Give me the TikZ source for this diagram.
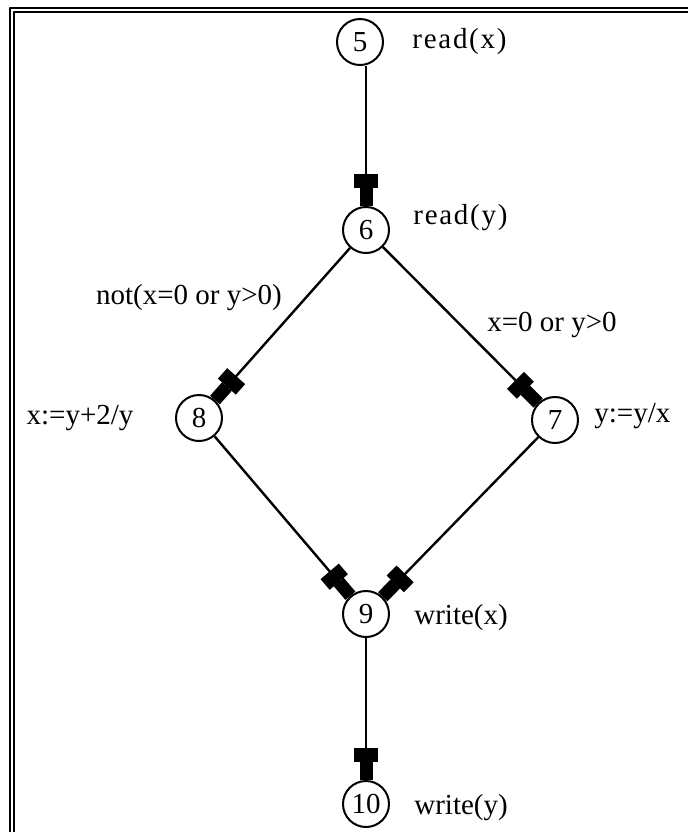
\documentclass[tikz,border=0pt]{standalone}
\usepackage{fontspec}
\setmainfont{Liberation Serif}
\usetikzlibrary{arrows.meta}
\tikzset{
	state/.style={draw,circle,line width=1pt,minimum size=23pt,inner sep=0pt},
	txt/.style={inner sep=0pt},
	edge/.style={line width=1.2pt,-{Rectangle[width=12pt,length=7pt]Rectangle[width=6.5pt,length=9pt]}}
}
\begin{document}
\begin{tikzpicture}[x=0.5pt,y=-0.5pt,font=\fontsize{14.5}{17}\selectfont,line join=round]
			\def \xmax{688}\def \ymax{832}
			\useasboundingbox (0,0) rectangle (\xmax,\ymax);
			% double frame
			\draw[line width=1pt] (10,\ymax)--(10,8)--(\xmax,8);
			\draw[line width=1pt] (14,\ymax)--(14,12)--(\xmax,12);
			% nodes
			\node[state] (n5) at (360,42) {5};
			\node[state] (n6) at (366,230) {6};
			\node[state] (n8) at (199,418) {8};
			\node[state] (n7) at (555,420) {7};
			\node[state] (n9) at (366,614) {9};
			\node[state] (n10) at (366,804) {10};
			% statements
			\node[txt,anchor=west] (s5) at (412,42) {\addfontfeature{LetterSpace=6}read(x)};
			\node[txt,anchor=west] (s6) at (413,218) {\addfontfeature{LetterSpace=6}read(y)};
			\node[txt] (s8) at (80,418) {x:=y+2/y};
			\node[txt,anchor=west] (s7) at (594,416) {y:=y/x};
			\node[txt,anchor=west] (s9) at (414,618) {write(x)};
			\node[txt,anchor=west] (s10) at (414,808) {write(y)};
			% conditions
			\node[txt] (c68) at (189,298) {not(x=0 or y>0)};
			\node[txt] (c67) at (552,325) {x=0 or y>0};
			% edges
			\draw[edge] (n5.south -| n6) -- (n6);
			\draw[edge] (n6) -- (n8);
			\draw[edge] (n6) -- (n7);
			\draw[edge] (n8) -- (n9);
			\draw[edge] (n7) -- (n9);
			\draw[edge] (n9) -- (n10);
	\end{tikzpicture}
\end{document}
